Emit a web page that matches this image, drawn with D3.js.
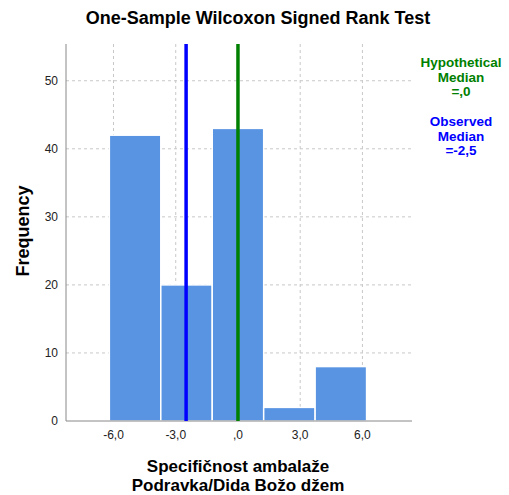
<!DOCTYPE html>
<html>
<head>
<meta charset="utf-8">
<script src="https://cdn.jsdelivr.net/npm/d3@7"></script>
<style>
  body { margin: 0; background: #fff; }
  text { font-family: Arial, "Liberation Sans", sans-serif; }
</style>
</head>
<body>
<svg id="chart" width="509" height="495"></svg>
<script>
// histogram bins (edges) and counts
const binEdges = [-6.2, -3.72, -1.24, 1.24, 3.72, 6.2]
const counts = [42, 20, 43, 2, 8]
const xTicks = [-6, -3, 0, 3, 6]
const yTicks = [0, 10, 20, 30, 40, 50]
const hypMedian = 0
const obsMedian = -2.5

// SPSS style: comma decimal, no leading zero, plain hyphen
const fmt = v => {
    const s = Math.abs(v).toFixed(1).replace('.', ',').replace(/^0,/, ',')
    return (v < 0 ? '-' : '') + s
}

const svg = d3.select('#chart')
const x = d3.scaleLinear().domain([-8.29, 8.39]).range([66, 412])
const y = d3.scaleLinear().domain([0, 55.4]).range([421, 44])

// grid
svg.append('g').selectAll('line')
    .data(yTicks.filter(d => d > 0))
    .enter().append('line')
    .attr('x1', 66).attr('x2', 412)
    .attr('y1', d => y(d)).attr('y2', d => y(d))
    .attr('stroke', '#c8c8c8').attr('stroke-dasharray', '3,3')

svg.append('g').selectAll('line')
    .data(xTicks)
    .enter().append('line')
    .attr('x1', d => x(d)).attr('x2', d => x(d))
    .attr('y1', 44).attr('y2', 421)
    .attr('stroke', '#c8c8c8').attr('stroke-dasharray', '3,3')

// bars
svg.append('g').selectAll('rect')
    .data(counts)
    .enter().append('rect')
    .attr('x', (d, i) => x(binEdges[i]))
    .attr('width', (d, i) => x(binEdges[i + 1]) - x(binEdges[i]))
    .attr('y', d => y(d))
    .attr('height', d => y(0) - y(d))
    .attr('fill', '#5894e2')
    .attr('stroke', '#fff').attr('stroke-width', 1.5)

// axes lines
svg.append('line').attr('x1', 66).attr('x2', 66).attr('y1', 44).attr('y2', 421)
    .attr('stroke', '#888').attr('stroke-width', 1)
svg.append('line').attr('x1', 66).attr('x2', 412).attr('y1', 421).attr('y2', 421)
    .attr('stroke', '#888').attr('stroke-width', 1)

// median lines
const medians = [{v: obsMedian, c: '#0000ff'}, {v: hypMedian, c: '#008000'}]
svg.append('g').selectAll('line')
    .data(medians)
    .enter().append('line')
    .attr('x1', d => x(d.v)).attr('x2', d => x(d.v))
    .attr('y1', 44).attr('y2', 421)
    .attr('stroke', d => d.c).attr('stroke-width', 3.5)

// tick labels
svg.append('g').selectAll('text')
    .data(yTicks)
    .enter().append('text')
    .attr('x', 58).attr('y', d => y(d) + 4)
    .attr('text-anchor', 'end')
    .attr('font-size', 12).attr('fill', '#222')
    .text(d => d)

svg.append('g').selectAll('text')
    .data(xTicks)
    .enter().append('text')
    .attr('x', d => x(d)).attr('y', 439)
    .attr('text-anchor', 'middle')
    .attr('font-size', 12).attr('fill', '#222')
    .text(d => fmt(d))

// title and axis labels
svg.append('text').attr('x', 258).attr('y', 24)
    .attr('text-anchor', 'middle').attr('font-size', 18).attr('font-weight', 'bold')
    .text('One-Sample Wilcoxon Signed Rank Test')

svg.append('text').attr('transform', 'translate(29,231) rotate(-90)')
    .attr('text-anchor', 'middle').attr('font-size', 18).attr('font-weight', 'bold')
    .text('Frequency')

svg.append('text').attr('x', 238).attr('y', 472)
    .attr('text-anchor', 'middle').attr('font-size', 17).attr('font-weight', 'bold')
    .text('Specifičnost ambalaže')
svg.append('text').attr('x', 238).attr('y', 491)
    .attr('text-anchor', 'middle').attr('font-size', 17).attr('font-weight', 'bold')
    .text('Podravka/Dida Božo džem')

// legend notes
const notes = [
    {lines: ['Hypothetical', 'Median', '=' + fmt(hypMedian)], c: '#008000', y0: 67},
    {lines: ['Observed', 'Median', '=' + fmt(obsMedian)], c: '#0000ff', y0: 126}
]
notes.forEach(n => {
    svg.append('g').selectAll('text')
        .data(n.lines)
        .enter().append('text')
        .attr('x', 461).attr('y', (d, i) => n.y0 + i * 14.5)
        .attr('text-anchor', 'middle').attr('font-size', 13.5).attr('font-weight', 'bold')
        .attr('fill', n.c)
        .text(d => d)
})
</script>
</body>
</html>
